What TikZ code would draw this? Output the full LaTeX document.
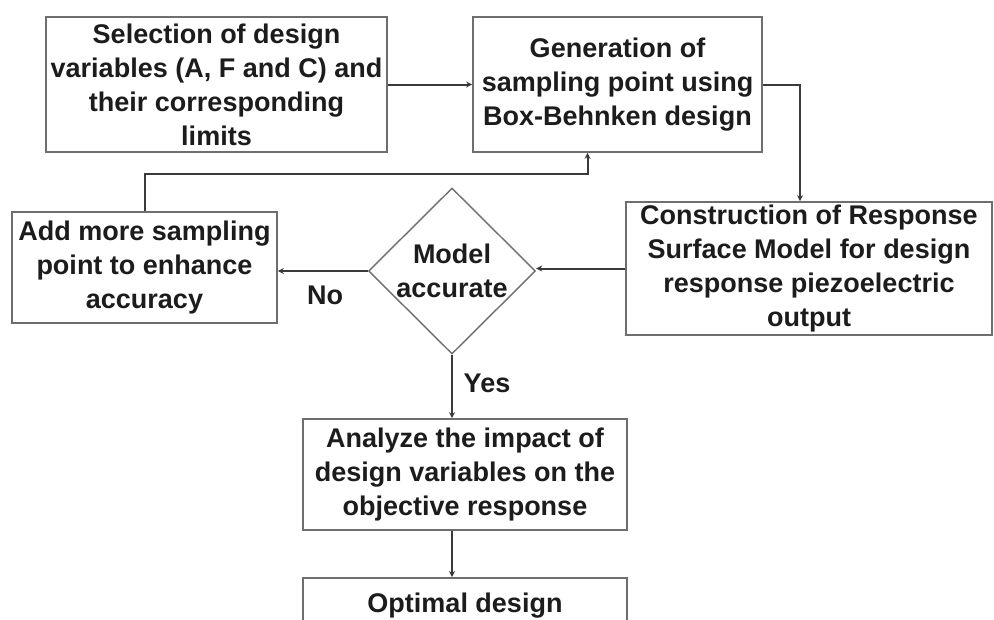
\documentclass[tikz,border=0pt]{standalone}
\usepackage{fontspec}
\setmainfont{Liberation Sans}
\usetikzlibrary{shapes.geometric,arrows.meta,calc}
\definecolor{boxgray}{HTML}{6E6E6E}
\definecolor{arrc}{HTML}{3A3A3A}
\definecolor{txtc}{HTML}{1C1C1C}
\begin{document}
\begin{tikzpicture}[x=1pt,y=-1pt,
  box/.style={draw=boxgray, line width=1.6pt, align=center, inner sep=0pt,
    font=\fontsize{27}{34}\selectfont\bfseries, text=txtc},
  dia/.style={draw=boxgray, line width=1.4pt, shape=diamond, inner sep=0pt,
    minimum width=167pt, minimum height=166pt},
  lbl/.style={font=\fontsize{27}{34}\selectfont\bfseries, text=txtc, align=center, inner sep=0pt},
  arr/.style={draw=arrc, line width=2pt, -{Stealth[length=6pt,width=6pt]}}]
\clip (0,0) rectangle (994,619);
\fill[white] (0,0) rectangle (994,619);
\node[box, minimum width=341pt, minimum height=135pt] (b1) at (216.5,84.5)
  {Selection of design\\variables (A, F and C) and\\their corresponding\\limits};
\node[box, minimum width=289pt, minimum height=135pt] (b2) at (617.5,84.5)
  {Generation of\\sampling point using\\Box-Behnken design};
\node[box, minimum width=366pt, minimum height=133pt] (b3) at (809,268.5)
  {Construction of Response\\Surface Model for design\\response piezoelectric\\output};
\node[box, minimum width=265pt, minimum height=111pt] (b4) at (144.5,267.5)
  {Add more sampling\\point to enhance\\accuracy};
\node[dia] (d) at (452,271) {};
\node[lbl] (dt) at (d) {Model\\accurate};
\node[box, minimum width=324pt, minimum height=111pt] (b5) at (465,474.5)
  {Analyze the impact of\\design variables on the\\objective response};
\node[box, minimum width=324pt, anchor=north, inner ysep=15pt] (b6) at (465,577)
  {Optimal design};
\node[lbl] (no) at (325,295) {No};
\node[lbl] (yes) at (487,383) {Yes};
\draw[arr] (b1.east) -- (b2.west);
\draw[arr] (b2.east) -| ($(b3.north)+(-9,0)$);
\draw[arr] (b3.west) -- (b3.west -| d.east);
\draw[arr] (d.west) -- (d.west -| b4.east);
\draw[arr] (b4.north) -- ++(0,-37) -| ($(b2.south)+(-30,0)$);
\draw[arr] (d.south) -- (d.south |- b5.north);
\draw[arr] (b5.south -| d.south) -- (b6.north -| d.south);
\end{tikzpicture}
\end{document}
